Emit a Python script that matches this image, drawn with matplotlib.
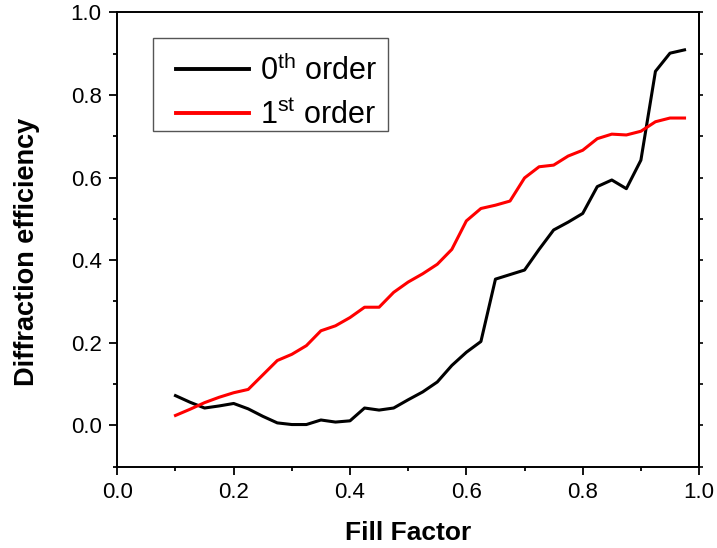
import matplotlib
matplotlib.use("Agg")
import matplotlib.pyplot as plt
from matplotlib.ticker import MultipleLocator
from matplotlib.patches import Rectangle

plt.rcParams['font.family'] = ['Liberation Sans', 'DejaVu Sans']
plt.rcParams['mathtext.fontset'] = 'custom'
plt.rcParams['mathtext.rm'] = 'Liberation Sans'
plt.rcParams['mathtext.it'] = 'Liberation Sans:italic'
plt.rcParams['mathtext.bf'] = 'Liberation Sans:bold'
plt.rcParams['xtick.labelsize'] = 16
plt.rcParams['ytick.labelsize'] = 16

fill_factor = [0.1 + 0.025 * k for k in range(36)]
order0 = [0.072, 0.056, 0.042, 0.047, 0.053, 0.040, 0.022, 0.006, 0.002, 0.002,
          0.013, 0.008, 0.011, 0.042, 0.037, 0.042, 0.062, 0.081, 0.105, 0.145,
          0.177, 0.203, 0.354, 0.365, 0.376, 0.426, 0.473, 0.492, 0.513, 0.578,
          0.594, 0.573, 0.642, 0.857, 0.901, 0.909]
order1 = [0.024, 0.039, 0.055, 0.068, 0.079, 0.087, 0.122, 0.157, 0.172, 0.193,
          0.229, 0.241, 0.261, 0.286, 0.286, 0.322, 0.347, 0.367, 0.390, 0.426,
          0.495, 0.525, 0.533, 0.543, 0.599, 0.626, 0.630, 0.652, 0.666, 0.694,
          0.705, 0.703, 0.712, 0.735, 0.744, 0.744]

labels = [r'0$^{\mathrm{th}}$ order', r'1$^{\mathrm{st}}$ order']
xticks_major = [0.0, 0.2, 0.4, 0.6, 0.8, 1.0]
yticks_major = [0.0, 0.2, 0.4, 0.6, 0.8, 1.0]

fig = plt.figure(figsize=(7.17, 5.48), dpi=100)
ax = fig.add_axes([0.1636, 0.1484, 0.8114, 0.8292])

ax.plot(fill_factor, order0, color='black', lw=2.2, label=labels[0])
ax.plot(fill_factor, order1, color='#ff0000', lw=2.2, label=labels[1])

ax.set_xlim(0.0, 1.0)
ax.set_ylim(-0.1, 1.0)
ax.set_xticks(xticks_major)
ax.set_yticks(yticks_major)
ax.set_xticklabels([f'{v:.1f}' for v in xticks_major], fontsize=16)
ax.set_yticklabels([f'{v:.1f}' for v in yticks_major], fontsize=16)
ax.xaxis.set_minor_locator(MultipleLocator(0.1))
ax.yaxis.set_minor_locator(MultipleLocator(0.1))
ax.tick_params(which='major', direction='out', length=5.8, width=1.3, pad=5.5, colors='black')
ax.tick_params(which='minor', direction='out', length=3.0, width=1.3)
for s in ax.spines.values():
    s.set_linewidth(1.4)

sec = ax.secondary_yaxis('right')
sec.set_yticks(yticks_major)
sec.yaxis.set_minor_locator(MultipleLocator(0.1))
sec.tick_params(which='both', direction='out', length=3, width=1.2, labelright=False)
sec.spines['right'].set_linewidth(1.4)

ax.set_xlabel('Fill Factor', fontsize=19, fontweight='bold', labelpad=13)
ax.set_ylabel('Diffraction efficiency', fontsize=19.5, fontweight='bold')
ax.yaxis.set_label_coords(-0.1325, 0.4725)

leg = ax.legend(loc='upper left', bbox_to_anchor=(0.0688, 0.947), borderaxespad=0,
                fontsize=22, frameon=False, handlelength=2.4,
                handletextpad=0.35, borderpad=0.6, labelspacing=0.45)
for line in leg.get_lines():
    line.set_linewidth(2.8)
ax.add_patch(Rectangle((0.062, 0.7394), 0.4028, 0.2047, transform=ax.transAxes,
                       fill=False, edgecolor='#555555', linewidth=1.0, zorder=5))

fig.savefig('out.png', dpi=100)
